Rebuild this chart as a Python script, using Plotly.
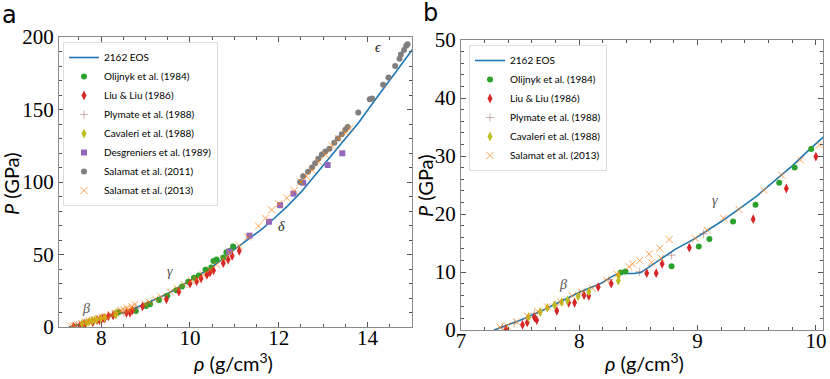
import plotly.graph_objects as go

# 2162 EOS curve (density g/cm3, pressure GPa)
eos_rho = [7.28, 7.40, 7.50, 7.67, 7.84, 8.01, 8.18, 8.30, 8.36, 8.46, 8.52, 8.60, 8.70, 8.81,
           8.98, 9.09, 9.20, 9.38, 9.50, 9.66, 9.80, 9.94, 10.10, 10.40, 10.70, 10.98, 11.30,
           11.60, 11.90, 12.20, 12.50, 12.80, 13.10, 13.43, 13.80, 14.13, 14.50, 14.80, 15.05]
eos_p = [0, 0.9, 1.7, 3.2, 4.9, 6.6, 8.0, 9.5, 9.75, 9.75, 9.9, 11.0, 12.4, 13.9,
         15.8, 17.2, 18.7, 21.3, 23.1, 25.9, 28.3, 31.0, 33.9, 39.5, 46, 53, 60,
         67, 75, 83.5, 93, 104, 115, 127, 141, 155, 170, 182, 193]

olij_rho = [8.35, 8.39, 8.78, 9.01, 9.10, 9.30, 9.49, 9.69, 9.82, 9.96, 10.09, 10.20, 10.35,
            10.48, 10.53, 10.60, 10.75, 10.82, 10.90, 10.97]
olij_p = [9.9, 10.1, 11.0, 14.4, 15.7, 18.7, 21.6, 25.4, 28.0, 31.2, 33.9, 35.5, 39.5,
          41, 45.5, 46.5, 48, 51.5, 52.5, 55.5]

liu_rho = [7.38, 7.52, 7.56, 7.62, 7.64, 7.81, 7.91, 7.96, 8.04, 8.08, 8.16, 8.27, 8.57, 8.65,
           8.70, 8.93, 9.47, 9.75, 10.00, 10.15, 10.25, 10.38, 10.45, 10.53, 10.75, 10.86,
           10.95, 11.11]
liu_p = [0.1, 0.9, 1.3, 2.2, 1.7, 3.3, 4.7, 4.7, 6.0, 5.9, 7.4, 8.0, 9.8, 9.8,
         11.4, 14.2, 19.1, 24.4, 29.9, 31.5, 33.5, 36, 37.5, 39, 44, 46.5,
         49, 52.5]

plym_rho = [7.35, 7.45, 7.62, 7.80, 8.00, 8.25, 8.51, 8.78, 9.05]
plym_p = [0.5, 1.2, 2.8, 4.3, 6.2, 8.7, 10.05, 12.9, 16.6]

cava_rho = [7.57, 7.67, 7.73, 7.79, 7.85, 7.90, 7.99, 8.08, 8.33, 8.33]
cava_p = [2.2, 3.1, 3.8, 4.3, 4.8, 5.1, 5.8, 6.6, 8.5, 9.4]

desg_rho = [10.88, 11.34, 11.78, 12.03, 12.33, 12.55, 13.10, 13.43]
desg_p = [52, 63, 72.6, 84, 92, 99.5, 111.7, 119.8]

sal11_rho = [12.48, 12.55, 12.66, 12.75, 12.82, 12.89, 12.97, 13.05, 13.14, 13.25, 13.33,
             13.42, 13.50, 13.55, 13.79, 14.05, 14.10, 14.35, 14.47, 14.62, 14.72, 14.75,
             14.82, 14.87, 14.90]
sal11_p = [100, 104, 107, 110, 113, 116, 119, 121, 123, 127, 130,
           133, 136, 138, 148, 157, 157.5, 167, 172, 180, 185, 188,
           191, 194, 195]

sal13_rho = [7.33, 7.39, 7.47, 7.56, 7.65, 7.73, 7.84, 7.94, 8.02, 8.11, 8.23, 8.32, 8.42, 8.45,
             8.51, 8.59, 8.68, 8.76, 8.61, 8.69, 8.98, 9.08, 9.22, 9.35, 9.56, 9.71, 9.87,
             10.03, 10.15, 10.30, 10.45, 10.60, 10.75, 10.90, 11.11, 11.30, 11.54, 11.70,
             11.84, 12.00, 12.18, 12.35, 12.50, 12.62, 12.75, 12.90, 13.05, 13.20, 13.35,
             13.50, 13.60]
sal13_p = [0.5, 0.7, 1.4, 2.4, 3.2, 4.0, 4.9, 5.9, 6.6, 7.2, 8.6, 9.6, 10.9, 11.4,
           12.0, 13.1, 14.1, 15.6, 11.6, 12.4, 15.8, 17.2, 19.3, 20.8, 24.1, 26.7, 29.3,
           31.9, 33, 36, 39.5, 43, 47, 51, 56, 62, 69.7, 75,
           80.7, 85, 89, 94, 100, 104, 108, 114, 119, 125, 130,
           134, 137]

phase_labels = ["β", "γ", "δ", "ϵ"]
phase_rho_a = [7.65, 9.55, 12.07, 14.25]
phase_p_a = [13, 38, 69, 193]
phase_rho_b = [7.86, 9.15]
phase_p_b = [7.8, 22.4]

BLUE = "#1f77b4"
ORANGE = "rgba(255,127,14,0.7)"
PLYM = "rgba(140,86,75,0.45)"
series = [
    ("Olijnyk et al. (1984)", olij_rho, olij_p, dict(symbol="circle", size=6, color="#2ca02c"), True),
    ("Liu & Liu (1986)", liu_rho, liu_p, dict(symbol="diamond-tall", size=7, color="#d62728"), True),
    ("Plymate et al. (1988)", plym_rho, plym_p,
     dict(symbol="cross-thin", size=6, color=PLYM, line=dict(width=1, color=PLYM)), True),
    ("Cavaleri et al. (1988)", cava_rho, cava_p, dict(symbol="diamond-tall", size=7, color="#bcbd22"), True),
    ("Desgreniers et al. (1989)", desg_rho, desg_p, dict(symbol="square", size=6, color="#9467bd"), False),
    ("Salamat et al. (2011)", sal11_rho, sal11_p, dict(symbol="circle", size=6, color="#7f7f7f"), False),
    ("Salamat et al. (2013)", sal13_rho, sal13_p,
     dict(symbol="x-thin", size=7, color=ORANGE, line=dict(width=1, color=ORANGE)), True),
]

fig = go.Figure()
for xa, ya, leg in [("x", "y", "legend"), ("x2", "y2", "legend2")]:
    fig.add_trace(go.Scatter(x=eos_rho, y=eos_p, mode="lines", name="2162 EOS",
                             line=dict(color=BLUE, width=1.6), xaxis=xa, yaxis=ya, legend=leg))
    for name, xs, ys, mk, in_b in series:
        if leg == "legend2" and not in_b:
            continue
        err = None
        if mk["symbol"] == "diamond-tall":
            err = dict(type="constant", value=0.5, color=mk["color"], thickness=1.2, width=0)
        fig.add_trace(go.Scatter(x=xs, y=ys, mode="markers", name=name, marker=mk, error_y=err,
                                 xaxis=xa, yaxis=ya, legend=leg, cliponaxis=True))

serif = "Liberation Serif, DejaVu Serif, serif"
sans = "Lato, DejaVu Sans, sans-serif"
tickfont = dict(family=serif, size=21, color="black")
common = dict(ticks="inside", mirror="allticks", showline=True, linecolor="#8a8a8a", linewidth=1,
              tickcolor="#555", ticklen=5, showgrid=False, zeroline=False, tickfont=tickfont,
              automargin=False)
xminor = dict(ticks="inside", ticklen=3, tickcolor="#555")

fig.update_layout(
    width=830, height=379, margin=dict(l=0, r=0, t=0, b=0, autoexpand=False),
    paper_bgcolor="white", plot_bgcolor="white", showlegend=True,
    xaxis=dict(domain=[59 / 830, 412 / 830], range=[7.05, 15.0], dtick=2, tick0=0,
               minor=dict(dtick=0.5, **xminor), anchor="y", ticklabelstandoff=-8, **common),
    yaxis=dict(domain=[1 - 327 / 379, 1 - 37 / 379], range=[0, 200], dtick=50,
               minor=dict(dtick=10, **xminor), anchor="x", **common),
    xaxis2=dict(domain=[461 / 830, 823 / 830], range=[7.0, 10.06], dtick=1,
                minor=dict(dtick=0.2, **xminor), anchor="y2", ticklabelstandoff=-8, **common),
    yaxis2=dict(domain=[1 - 330 / 379, 1 - 40 / 379], range=[0, 50], dtick=10,
                minor=dict(dtick=2, **xminor), anchor="x2", **common),
    legend=dict(x=63 / 830, y=1 - 42 / 379, xanchor="left", yanchor="top", bgcolor="white",
                bordercolor="#dddddd", borderwidth=1, font=dict(family=sans, size=10, color="black"),
                tracegroupgap=0, itemwidth=30),
    legend2=dict(x=469 / 830, y=1 - 45 / 379, xanchor="left", yanchor="top", bgcolor="white",
                 bordercolor="#dddddd", borderwidth=1, font=dict(family=sans, size=10, color="black"),
                 tracegroupgap=0, itemwidth=30),
)

ylab = "<i>P</i> (GPa)"
xlab = "<i>ρ</i> (g/cm<sup>3</sup>)"
ctr = dict(xref="paper", yref="paper", showarrow=False, xanchor="center", yanchor="middle")
for txt, xc, yc in [("a", 9 / 830, 1 - 15 / 379), ("b", 430 / 830, 1 - 13 / 379)]:
    fig.add_annotation(x=xc, y=yc, text=txt, font=dict(family="DejaVu Sans", size=24, color="black"), **ctr)
for xc, yc in [(11 / 830, 1 - 184 / 379), (425 / 830, 1 - 186 / 379)]:
    fig.add_annotation(x=xc, y=yc, text=ylab, textangle=-90,
                       font=dict(family=sans, size=20, color="black"), **ctr)
for xc in [233 / 830, 644 / 830]:
    fig.add_annotation(x=xc, y=1 - 362 / 379, text=xlab, font=dict(family=sans, size=20, color="black"), **ctr)
for i in range(4):
    fig.add_annotation(xref="x", yref="y", x=phase_rho_a[i], y=phase_p_a[i], text="<i>%s</i>" % phase_labels[i],
                       showarrow=False, font=dict(family=serif, size=14, color="#555" if i < 2 else "#222"))
for i in range(2):
    fig.add_annotation(xref="x2", yref="y2", x=phase_rho_b[i], y=phase_p_b[i], text="<i>%s</i>" % phase_labels[i],
                       showarrow=False, font=dict(family=serif, size=14, color="#555"))

fig.write_html("out.html", config={"displayModeBar": False},
               post_script="document.body.style.margin='0';")
